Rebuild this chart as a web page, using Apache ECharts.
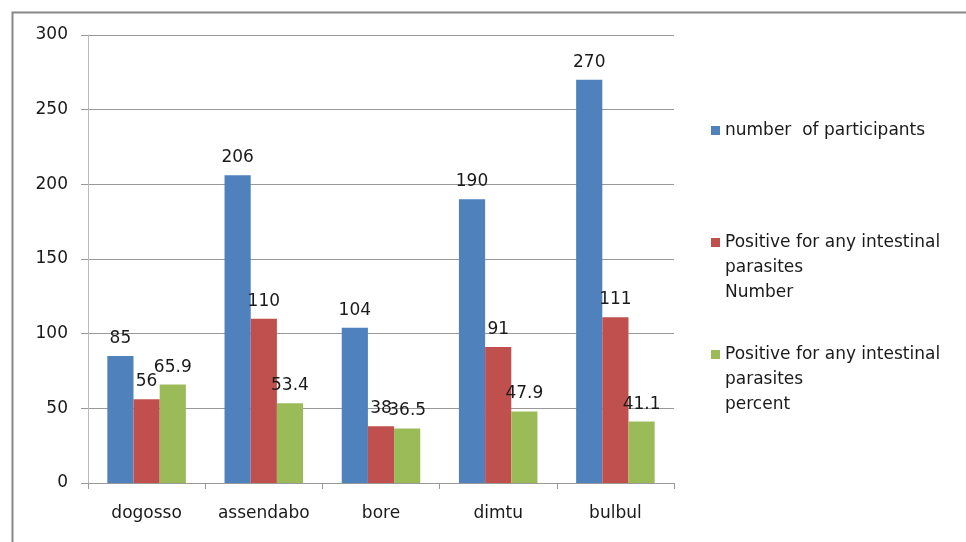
<!DOCTYPE html>
<html>
<head>
<meta charset="utf-8">
<script src="https://cdn.jsdelivr.net/npm/echarts@6/dist/echarts.min.js"></script>
<style>html,body{margin:0;padding:0;background:#fff;}#c{width:966px;height:542px;}</style>
</head>
<body>
<div id="c"></div>
<script>
var categories = ['dogosso', 'assendabo', 'bore', 'dimtu', 'bulbul'];
var seriesNames = ['number  of participants', 'Positive for any intestinal\nparasites\nNumber', 'Positive for any intestinal\nparasites\npercent'];
var participants = [85, 206, 104, 190, 270];
var positiveNumber = [56, 110, 38, 91, 111];
var positivePercent = [65.9, 53.4, 36.5, 47.9, 41.1];
var yTicks = [0, 50, 100, 150, 200, 250, 300];

var colors = ['#4F81BD', '#C0504D', '#9BBB59'];
var font = 'DejaVu Sans';
var txt = '#1a1a1a';
var chart = echarts.init(document.getElementById('c'));

function mkSeries(i, data) {
  return {
    name: seriesNames[i], type: 'bar', data: data,
    barGap: '0%', barCategoryGap: '33%',
    itemStyle: { color: colors[i] },
    label: { show: true, position: 'top', distance: 9, fontFamily: font, fontSize: 17, color: txt },
    emphasis: { disabled: true }
  };
}
function mkLegend(i, top, multi) {
  return {
    data: [seriesNames[i]], left: 711, top: top, padding: 0, orient: 'vertical',
    icon: 'rect', itemWidth: 9, itemHeight: 9, itemGap: 0, selectedMode: false,
    formatter: multi ? function (n) { return '\n\n' + n; } : null,
    textStyle: { fontFamily: font, fontSize: 17, color: txt, lineHeight: 25 }
  };
}

chart.setOption({
  animation: false,
  backgroundColor: '#fff',
  graphic: [{ type: 'rect', shape: { x: 12.5, y: 12.5, width: 1000, height: 600 }, style: { fill: 'none', stroke: '#888', lineWidth: 2 }, silent: true }],
  grid: { left: 88, right: 292, top: 35, bottom: 59 },
  legend: [mkLegend(0, 118, false), mkLegend(1, 180, true), mkLegend(2, 292, true)],
  xAxis: {
    type: 'category', data: categories,
    axisLine: { lineStyle: { color: '#999' } },
    axisTick: { show: true, length: 6, lineStyle: { color: '#999' } },
    axisLabel: { fontFamily: font, fontSize: 17, color: txt, margin: 22, interval: 0 }
  },
  yAxis: {
    type: 'value', min: yTicks[0], max: yTicks[yTicks.length - 1], interval: 50,
    axisLine: { show: true, lineStyle: { color: '#bbb' } },
    axisTick: { show: true, length: 7, lineStyle: { color: '#999' } },
    splitLine: { lineStyle: { color: '#999' } },
    axisLabel: { fontFamily: font, fontSize: 17, color: txt, margin: 20 }
  },
  series: [mkSeries(0, participants), mkSeries(1, positiveNumber), mkSeries(2, positivePercent)]
});
</script>
</body>
</html>
